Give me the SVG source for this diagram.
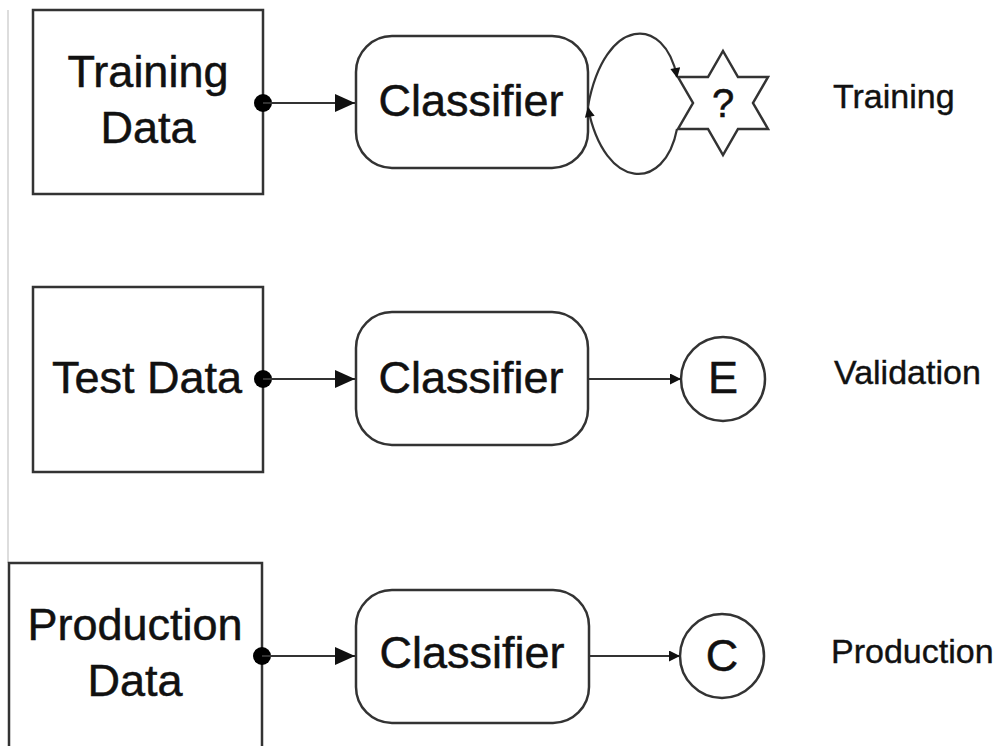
<svg xmlns="http://www.w3.org/2000/svg" width="1004" height="746" viewBox="0 0 1004 746">
<style>
.box{fill:#fff;stroke:#333;stroke-width:2.5}
.t{font-family:"Liberation Sans",Arial,sans-serif;font-size:45px;fill:#111;stroke:#111;stroke-width:0.5;text-anchor:middle}
.s{font-family:"Liberation Sans",Arial,sans-serif;font-size:34px;fill:#111;stroke:#111;stroke-width:0.4}
.c{fill:none;stroke:#333;stroke-width:2.2}
</style>
<defs>
<marker id="ah" viewBox="0 0 10 10" refX="10" refY="5" markerWidth="11" markerHeight="11" markerUnits="userSpaceOnUse" orient="auto"><path d="M0,0L10,5L0,10z" fill="#111"/></marker>
<marker id="ahs" viewBox="0 0 10 10" refX="9" refY="5" markerWidth="12" markerHeight="10" markerUnits="userSpaceOnUse" orient="auto"><path d="M0,0L10,5L0,10z" fill="#111"/></marker>
<marker id="big" viewBox="0 0 20 20" refX="20" refY="10" markerWidth="20" markerHeight="20" markerUnits="userSpaceOnUse" orient="auto"><path d="M0,1L20,10L0,19z" fill="#111"/></marker>
</defs>
<line x1="8" y1="10" x2="8" y2="563" stroke="#bbb" stroke-width="1"/>
<g id="training-data"><rect class="box" x="33" y="10" width="230" height="184"/><text class="t" x="148" y="87">Training</text><text class="t" x="148" y="143">Data</text></g>
<g id="classifier1"><rect class="box" x="356" y="36" width="232" height="132" rx="36"/><text class="t" x="471" y="116">Classifier</text></g>
<g id="star"><polygon class="box" points="723,51 738,77 768,77 753,103 768,129 738,129 723,155 708,129 678,129 693,103 678,77 708,77"/><text class="t" x="723" y="117" style="font-size:40px">?</text></g>
<g id="label-training"><text class="s" x="833" y="108">Training</text></g>
<g id="test-data"><rect class="box" x="33" y="287" width="230" height="185"/><text class="t" x="147" y="393">Test Data</text></g>
<g id="classifier2"><rect class="box" x="356" y="312" width="232" height="133" rx="36"/><text class="t" x="471" y="393">Classifier</text></g>
<g id="eval"><circle class="box" cx="723" cy="379" r="42"/><text class="t" x="723" y="393">E</text></g>
<g id="label-validation"><text class="s" x="834" y="384">Validation</text></g>
<g id="production-data"><rect class="box" x="9" y="563" width="253" height="200"/><text class="t" x="135" y="640">Production</text><text class="t" x="135" y="696">Data</text></g>
<g id="classifier3"><rect class="box" x="356" y="590" width="233" height="133" rx="36"/><text class="t" x="472" y="668">Classifier</text></g>
<g id="class"><circle class="box" cx="722" cy="656" r="42"/><text class="t" x="722" y="671">C</text></g>
<g id="label-production"><text class="s" x="831" y="663">Production</text></g>
<g id="connectors">
<circle cx="263" cy="103" r="9" fill="#000"/>
<line class="c" x1="263" y1="103" x2="355" y2="103" marker-end="url(#big)"/>
<circle cx="263" cy="379" r="9" fill="#000"/>
<line class="c" x1="263" y1="379" x2="355" y2="379" marker-end="url(#big)"/>
<circle cx="262" cy="656" r="9" fill="#000"/>
<line class="c" x1="262" y1="656" x2="355" y2="656" marker-end="url(#big)"/>
<line class="c" x1="588" y1="379" x2="681" y2="379" marker-end="url(#ah)"/>
<line class="c" x1="589" y1="656" x2="680" y2="656" marker-end="url(#ah)"/>
<path class="c" d="M588,106 C605,15 665,15 677,77" marker-end="url(#ahs)"/>
<path class="c" d="M677,129 C665,192 605,192 588,108" marker-end="url(#ahs)"/>
</g>
</svg>
